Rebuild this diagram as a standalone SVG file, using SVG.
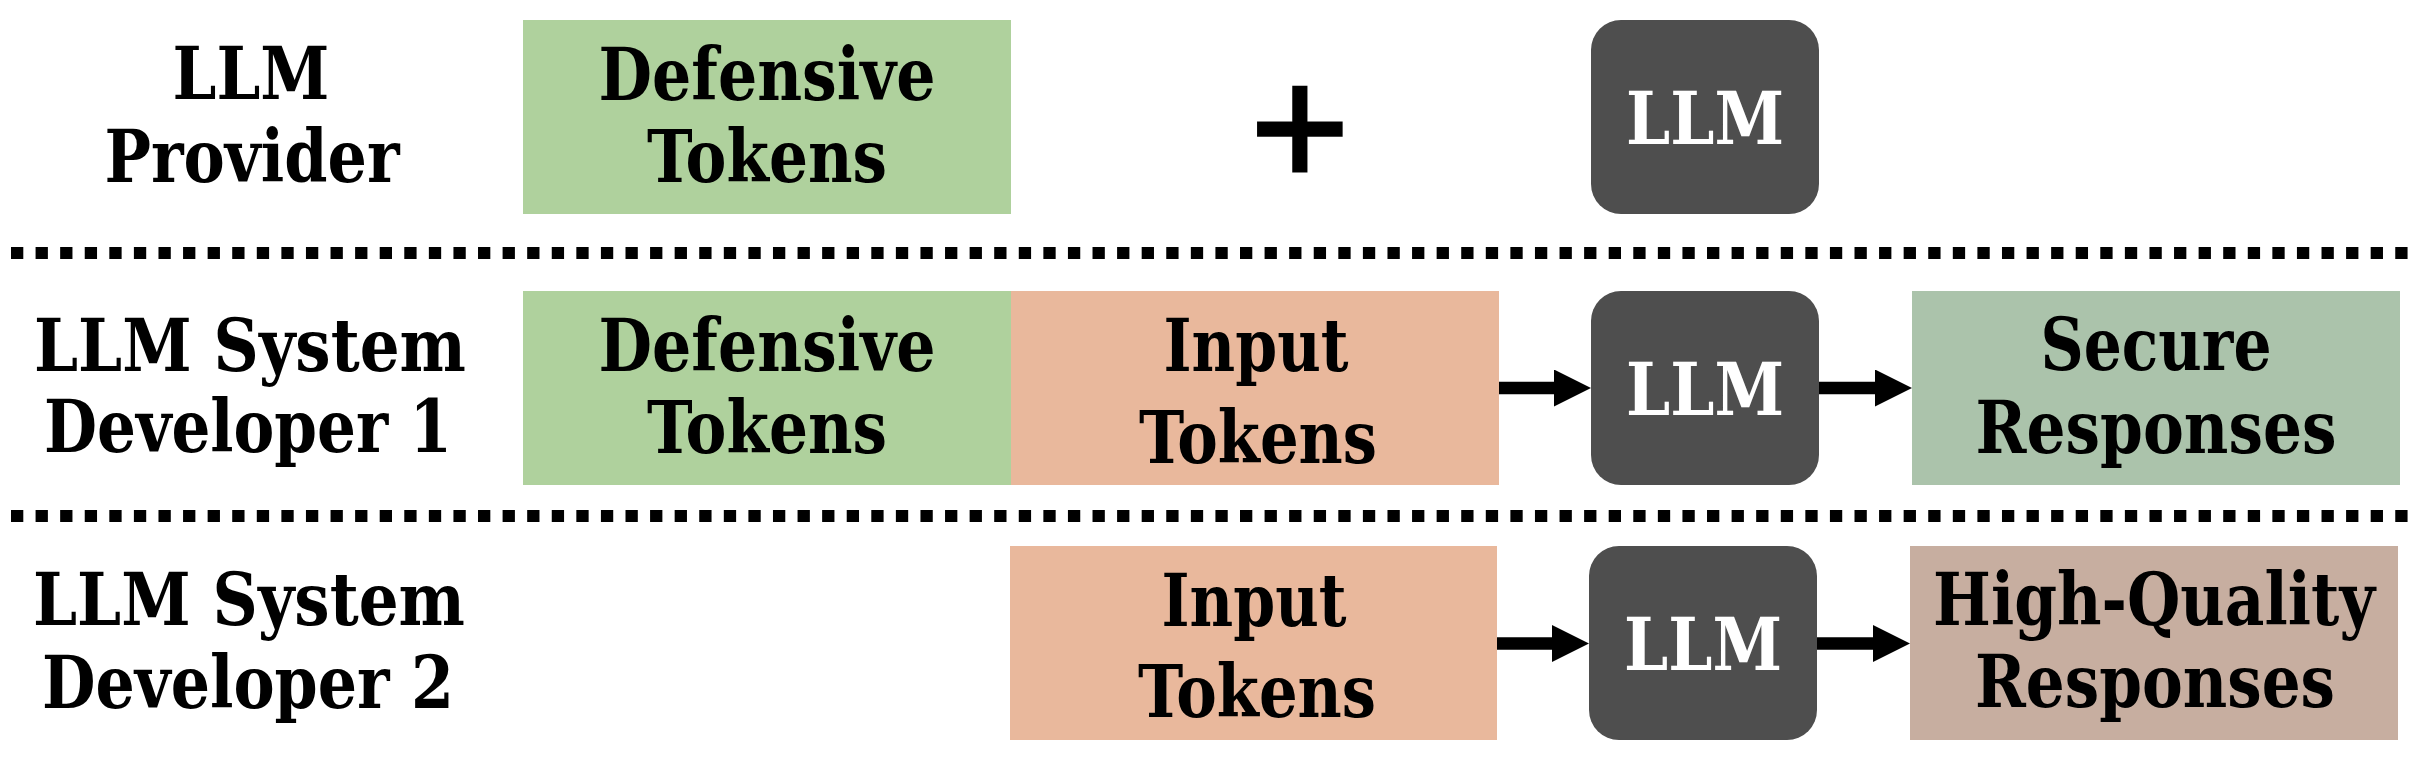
<svg xmlns="http://www.w3.org/2000/svg" width="2422" height="758" viewBox="0 0 2422 758">
<style>
  .t { font-family: "DejaVu Serif", "Liberation Serif", serif; font-weight: bold; font-size: 73px; fill: #000; text-anchor: middle; }
  .w { fill: #ffffff; }
  .def { fill: #AFD19D; }
  .inp { fill: #E9B89C; }
  .llm { fill: #4E4E4E; }
  .sec { fill: #ABC3AB; }
  .hq { fill: #C7AEA0; }
  .sep { stroke: #000; stroke-width: 12; stroke-dasharray: 12.3 12.28; fill: none; }
  .arr { stroke: #000; stroke-width: 12.6; fill: none; marker-end: url(#head); }
</style>
<defs>
  <marker id="head" markerUnits="userSpaceOnUse" markerWidth="37" markerHeight="37" refX="1" refY="18.5" orient="auto" viewBox="0 0 37 37">
    <path d="M0,0 L37,18.5 L0,37 z" fill="#000"/>
  </marker>
</defs>
<rect width="2422" height="758" fill="#ffffff"/>

<g id="separators">
  <line class="sep" x1="11" y1="253" x2="2410" y2="253"/>
  <line class="sep" x1="11" y1="516" x2="2410" y2="516"/>
</g>

<g id="label-provider">
  <text class="t" x="251" y="99" textLength="157" lengthAdjust="spacingAndGlyphs">LLM</text>
  <text class="t" x="252" y="182" textLength="295" lengthAdjust="spacingAndGlyphs">Provider</text>
</g>
<g id="label-dev1">
  <text class="t" x="250" y="371" textLength="432" lengthAdjust="spacingAndGlyphs">LLM System</text>
  <text class="t" x="248" y="452" textLength="408" lengthAdjust="spacingAndGlyphs">Developer 1</text>
</g>
<g id="label-dev2">
  <text class="t" x="249" y="625" textLength="432" lengthAdjust="spacingAndGlyphs">LLM System</text>
  <text class="t" x="248" y="708" textLength="412" lengthAdjust="spacingAndGlyphs">Developer 2</text>
</g>

<g id="defensive-tokens-1">
  <rect class="def" x="523" y="20" width="488" height="194"/>
  <text class="t" x="767" y="100" textLength="337" lengthAdjust="spacingAndGlyphs">Defensive</text>
  <text class="t" x="767" y="182" textLength="240" lengthAdjust="spacingAndGlyphs">Tokens</text>
</g>
<g id="plus">
  <text x="1300" y="186" style="font-family: 'Liberation Sans', Arial, sans-serif; font-weight: normal; font-size: 170px; text-anchor: middle; fill: #000; stroke: #000; stroke-width: 3;">+</text>
</g>
<g id="llm-1">
  <rect class="llm" x="1591" y="20" width="228" height="194" rx="30" ry="30"/>
  <text class="t w" x="1705" y="144" textLength="158" lengthAdjust="spacingAndGlyphs">LLM</text>
</g>

<g id="defensive-tokens-2">
  <rect class="def" x="523" y="291" width="489" height="194"/>
  <text class="t" x="767" y="371" textLength="337" lengthAdjust="spacingAndGlyphs">Defensive</text>
  <text class="t" x="767" y="453" textLength="240" lengthAdjust="spacingAndGlyphs">Tokens</text>
</g>
<g id="input-tokens-2">
  <rect class="inp" x="1011" y="291" width="488" height="194"/>
  <text class="t" x="1256" y="371" textLength="185" lengthAdjust="spacingAndGlyphs">Input</text>
  <text class="t" x="1258" y="463" textLength="238" lengthAdjust="spacingAndGlyphs">Tokens</text>
</g>
<g id="llm-2">
  <rect class="llm" x="1591" y="291" width="228" height="194" rx="30" ry="30"/>
  <text class="t w" x="1705" y="415" textLength="158" lengthAdjust="spacingAndGlyphs">LLM</text>
</g>
<g id="secure-responses">
  <rect class="sec" x="1912" y="291" width="488" height="194"/>
  <text class="t" x="2156" y="370" textLength="231" lengthAdjust="spacingAndGlyphs">Secure</text>
  <text class="t" x="2156" y="453" textLength="361" lengthAdjust="spacingAndGlyphs">Responses</text>
</g>

<g id="input-tokens-3">
  <rect class="inp" x="1010" y="546" width="487" height="194"/>
  <text class="t" x="1254" y="626" textLength="185" lengthAdjust="spacingAndGlyphs">Input</text>
  <text class="t" x="1257" y="717" textLength="238" lengthAdjust="spacingAndGlyphs">Tokens</text>
</g>
<g id="llm-3">
  <rect class="llm" x="1589" y="546" width="228" height="194" rx="30" ry="30"/>
  <text class="t w" x="1703" y="670" textLength="158" lengthAdjust="spacingAndGlyphs">LLM</text>
</g>
<g id="high-quality-responses">
  <rect class="hq" x="1910" y="546" width="488" height="194"/>
  <text class="t" x="2154" y="625" textLength="442" lengthAdjust="spacingAndGlyphs">High-Quality</text>
  <text class="t" x="2155" y="707" textLength="360" lengthAdjust="spacingAndGlyphs">Responses</text>
</g>

<g id="connectors">
  <line class="arr" x1="1499" y1="388" x2="1555" y2="388"/>
  <line class="arr" x1="1819" y1="388" x2="1876" y2="388"/>
  <line class="arr" x1="1497" y1="643.5" x2="1553" y2="643.5"/>
  <line class="arr" x1="1817" y1="643.5" x2="1874" y2="643.5"/>
</g>
</svg>
